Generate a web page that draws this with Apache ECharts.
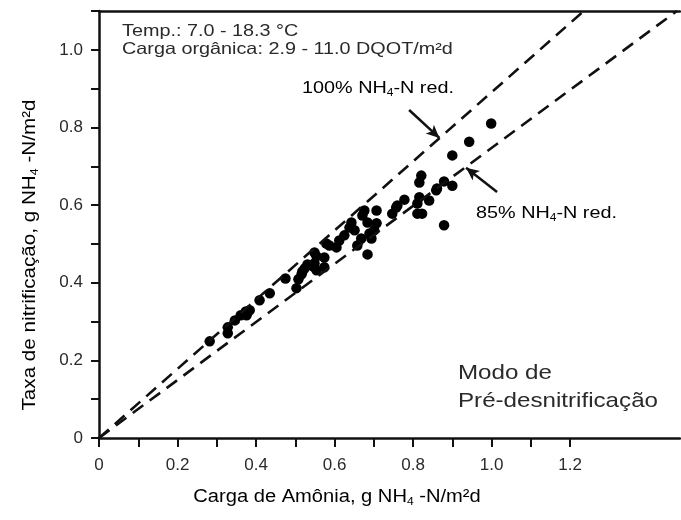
<!DOCTYPE html>
<html><head><meta charset="utf-8">
<script src="https://cdn.jsdelivr.net/npm/echarts@6/dist/echarts.min.js"></script>
<style>html,body{margin:0;padding:0;background:#fff}#c{width:681px;height:520px}</style>
</head><body><div id="c"></div>
<script>
// Data
const ammoniaLoad = [0.282,0.328,0.328,0.346,0.361,0.374,0.384,0.376,0.409,0.435,0.475,0.503,0.508,0.516,0.524,0.531,0.546,0.554,0.549,0.554,0.518,0.549,0.574,0.574,0.587,0.579,0.605,0.612,0.625,0.638,0.643,0.651,0.658,0.668,0.671,0.676,0.684,0.689,0.694,0.701,0.707,0.707,0.684,0.747,0.757,0.760,0.778,0.811,0.811,0.816,0.821,0.816,0.841,0.859,0.879,0.900,0.879,0.900,0.943,0.999,0.823,0.861];
const nitrifRate  = [0.249,0.270,0.285,0.303,0.316,0.326,0.329,0.316,0.355,0.373,0.411,0.386,0.409,0.422,0.437,0.447,0.442,0.468,0.450,0.432,0.429,0.478,0.465,0.440,0.496,0.501,0.491,0.509,0.522,0.542,0.555,0.535,0.496,0.514,0.573,0.586,0.555,0.527,0.514,0.535,0.586,0.553,0.473,0.578,0.594,0.599,0.614,0.578,0.604,0.620,0.676,0.658,0.612,0.638,0.661,0.650,0.548,0.728,0.763,0.810,0.578,0.643];
const line100 = [[0,0],[1.235,1.1]];
const line85  = [[0,0],[1.472,1.1]];
const arrow100 = [[0.790,0.845],[0.867,0.773]];
const arrow85  = [[1.014,0.634],[0.935,0.696]];
const xTicks = [0,0.1,0.2,0.3,0.4,0.5,0.6,0.7,0.8,0.9,1.0,1.1,1.2];
const xLabels = [0,0.2,0.4,0.6,0.8,1.0,1.2];
const yTicks = [0,0.1,0.2,0.3,0.4,0.5,0.6,0.7,0.8,0.9,1.0,1.1];
const yLabels = [0,0.2,0.4,0.6,0.8,1.0];

const points = ammoniaLoad.map((x,i)=>[x,nitrifRate[i]]);
const FONT = '"Liberation Sans", Arial, sans-serif';
const TXT = '#2a2a2a';
const fmt = v => v===0 ? '0' : v.toFixed(1);
const sx = 1.2;

function subText(x, y, pre, post, size, subSize, align, extra) {
  return Object.assign({
    type:'text', x:x, y:y, scaleX:sx,
    style:{
      text:'{a|'+pre+'}{s|4}{a|'+post+'}', align:align, verticalAlign:'middle',
      rich:{
        a:{fontSize:size,fontFamily:FONT,color:TXT},
        s:{fontSize:subSize,fontFamily:FONT,color:TXT,padding:[Math.round(subSize*0.95),0,0,0]}
      }
    }
  }, extra||{});
}

const chart = echarts.init(document.getElementById('c'), null, {renderer:'canvas'});
chart.setOption({
  animation:false,
  backgroundColor:'#fff',
  grid:{left:99,right:1,top:11,bottom:82},
  xAxis:[{
    type:'value',min:0,max:1.48,interval:0.1,
    axisLine:{lineStyle:{color:'#111',width:2.5}},
    axisTick:{customValues:xTicks,length:9,lineStyle:{color:'#111',width:2}},
    axisLabel:{customValues:xLabels,formatter:fmt,color:TXT,fontSize:17,fontFamily:FONT,margin:19},
    splitLine:{show:false}
  },{
    type:'value',min:0,max:1.48,position:'top',
    axisLine:{show:true,lineStyle:{color:'#111',width:2.5}},
    axisTick:{show:false},axisLabel:{show:false},splitLine:{show:false}
  }],
  yAxis:{
    type:'value',min:0,max:1.1,interval:0.1,
    axisLine:{lineStyle:{color:'#111',width:2.5}},
    axisTick:{customValues:yTicks,length:8,lineStyle:{color:'#111',width:2}},
    axisLabel:{customValues:yLabels,formatter:fmt,color:TXT,fontSize:17,fontFamily:FONT,margin:16},
    splitLine:{show:false}
  },
  series:[
    {type:'line',data:line100,symbol:'none',lineStyle:{color:'#111',width:2.6,type:[13,8]},silent:true},
    {type:'line',data:line85,symbol:'none',lineStyle:{color:'#111',width:2.6,type:[13,8]},silent:true},
    {type:'scatter',data:points,symbol:'circle',symbolSize:10.5,itemStyle:{color:'#000',opacity:1},
     markLine:{silent:true,symbol:['none','arrow'],symbolSize:[9,13],label:{show:false},
       lineStyle:{color:'#111',width:2.5,type:'solid',opacity:1},
       data:[[{coord:arrow100[0]},{coord:arrow100[1]}],[{coord:arrow85[0]},{coord:arrow85[1]}]]}}
  ],
  graphic:[
    {type:'text',x:122,y:31,scaleX:sx,style:{text:'Temp.: 7.0 - 18.3 °C',fill:TXT,font:'16.5px '+FONT,verticalAlign:'middle'}},
    {type:'text',x:122,y:49,scaleX:sx,style:{text:'Carga orgânica: 2.9 - 11.0 DQOT/m²d',fill:TXT,font:'16.5px '+FONT,verticalAlign:'middle'}},
    subText(302,88,'100% NH','-N red.',16.5,10,'left'),
    subText(476,213,'85% NH','-N red.',16.5,10,'left'),
    {type:'text',x:458,y:373,scaleX:1.15,style:{text:'Modo de',fill:TXT,font:'21px '+FONT,verticalAlign:'middle'}},
    {type:'text',x:458,y:401,scaleX:1.15,style:{text:'Pré-desnitrificação',fill:TXT,font:'21px '+FONT,verticalAlign:'middle'}},
    subText(337,497,'Carga de Amônia, g NH',' -N/m²d',17.5,10.5,'center',{scaleX:1.15}),
    subText(30,255,'Taxa de nitrificação, g NH',' -N/m²d',17.5,10.5,'center',{scaleX:1.18,rotation:Math.PI/2})
  ]
});
</script></body></html>
